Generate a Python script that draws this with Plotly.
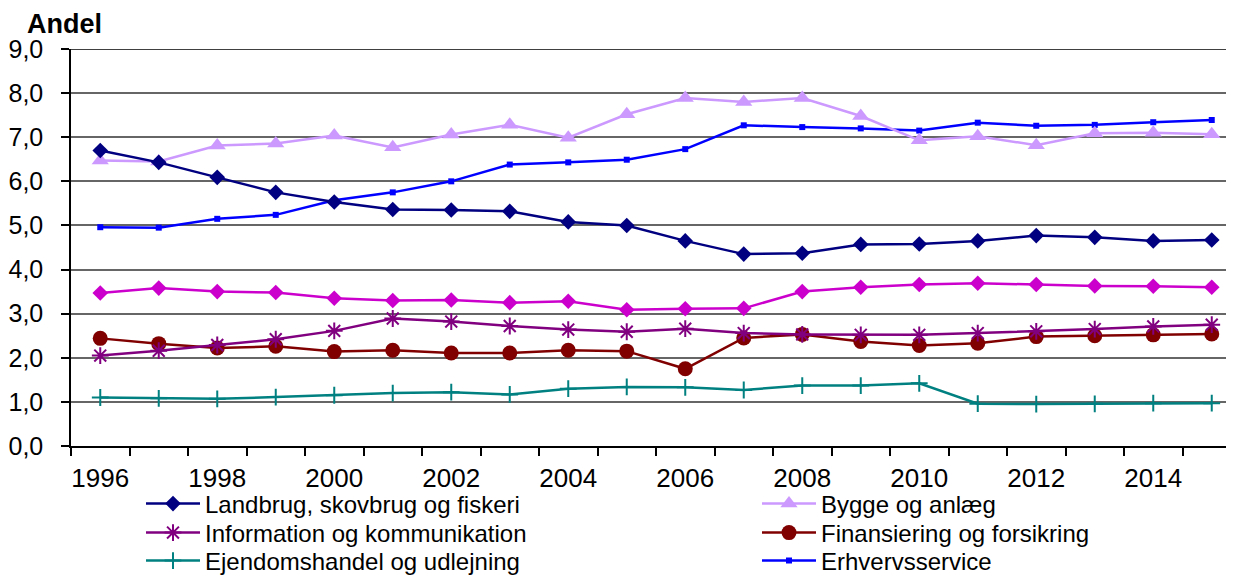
import plotly.graph_objects as go

years = list(range(1996, 2016))
landbrug = [6.70, 6.43, 6.09, 5.75, 5.53, 5.36, 5.35, 5.32, 5.08, 5.00, 4.65, 4.35, 4.37, 4.57, 4.58, 4.65, 4.77, 4.73, 4.65, 4.67]
bygge = [6.47, 6.45, 6.81, 6.86, 7.04, 6.77, 7.06, 7.28, 6.99, 7.52, 7.89, 7.80, 7.89, 7.48, 6.93, 7.02, 6.82, 7.09, 7.10, 7.07]
information = [2.05, 2.16, 2.29, 2.42, 2.61, 2.89, 2.82, 2.72, 2.64, 2.59, 2.66, 2.56, 2.53, 2.52, 2.52, 2.56, 2.60, 2.65, 2.71, 2.75]
finansiering = [2.44, 2.32, 2.22, 2.26, 2.14, 2.17, 2.11, 2.11, 2.17, 2.15, 1.75, 2.45, 2.53, 2.37, 2.28, 2.33, 2.48, 2.50, 2.52, 2.54]
ejendom = [1.10, 1.08, 1.07, 1.11, 1.15, 1.20, 1.22, 1.17, 1.30, 1.34, 1.33, 1.27, 1.37, 1.37, 1.42, 0.96, 0.95, 0.955, 0.97, 0.97]
erhverv = [4.96, 4.95, 5.15, 5.24, 5.57, 5.75, 6.00, 6.38, 6.43, 6.49, 6.73, 7.27, 7.23, 7.20, 7.15, 7.33, 7.26, 7.28, 7.34, 7.39]
magenta = [3.47, 3.58, 3.50, 3.48, 3.35, 3.30, 3.31, 3.25, 3.28, 3.09, 3.11, 3.12, 3.50, 3.60, 3.66, 3.69, 3.66, 3.63, 3.62, 3.60]

label_years = [1996, 1998, 2000, 2002, 2004, 2006, 2008, 2010, 2012, 2014]
y_ticks = [0, 1, 2, 3, 4, 5, 6, 7, 8, 9]

FONT = "Arial, Liberation Sans, sans-serif"
OFF = 8                      # page body margin of the html page
W, H = 1234 - OFF, 577 - OFF  # figure fills the window exactly
ML, MT = 71 - OFF, 49 - OFF
MB = H - (446 - OFF)

fig = go.Figure()

def add(name, y, color, symbol, size, legend, showlegend=True, mline=None):
    marker = dict(symbol=symbol, size=size, color=color)
    if mline:
        marker["line"] = dict(color=color, width=mline)
    fig.add_trace(go.Scatter(
        x=years, y=y, name=name, mode="lines+markers",
        line=dict(color=color, width=2.5), marker=marker,
        legend=legend, showlegend=showlegend,
    ))

add("Erhvervsservice", erhverv, "#0000FF", "square", 6, "legend6")
add("Bygge og anlæg", bygge, "#CC99FF", "triangle-up", 15, "legend2")
add("Landbrug, skovbrug og fiskeri", landbrug, "#000080", "diamond", 12, "legend")
add("Ejendomshandel og udlejning", ejendom, "#008080", "cross-thin-open", 12, "legend5", mline=2)
add("Finansiering og forsikring", finansiering, "#800000", "circle", 15, "legend4")
add("Information og kommunikation", information, "#800080", "asterisk-open", 14, "legend3", mline=2)
add("Handel", magenta, "#CC00CC", "diamond", 12, "legend", showlegend=False)

pw = W - ML
ph = H - MT - MB

fig.add_shape(type="line", xref="paper", yref="y", x0=0, x1=1, y0=9, y1=9,
              line=dict(color="black", width=1.5), layer="above")

fig.add_annotation(text="<b>Andel</b>", xref="paper", yref="paper",
                   x=(25 - 71) / pw, y=(446 - 24) / ph, xanchor="left", yanchor="middle",
                   showarrow=False, font=dict(family=FONT, size=27, color="black"))

def leg(px, py):
    # px, py are window coordinates of the legend item
    return dict(font=dict(family=FONT, size=24, color="black"),
                bgcolor="rgba(0,0,0,0)", itemwidth=54, borderwidth=0,
                xref="container", yref="container",
                x=(px - OFF) / W, y=1 - (py - OFF) / H, xanchor="left", yanchor="middle",
                itemclick=False, itemdoubleclick=False)

C1, C2 = 141, 757
R1, R2, R3 = 504, 533, 561

# right edge of the plot area sits at the window edge (chart cropped there)
x_right = 1995.5 + (1234 - 71) / 58.5

fig.update_layout(
    width=W, height=H,
    margin=dict(l=ML, r=0, t=MT, b=MB, autoexpand=False),
    paper_bgcolor="white", plot_bgcolor="white",
    separators=",.",
    font=dict(family=FONT, size=25, color="black"),
    xaxis=dict(range=[1995.5, x_right], tickvals=label_years, ticktext=[str(v) for v in label_years],
               ticks="", showgrid=False, zeroline=False, showline=True, linecolor="black", linewidth=1.5,
               ticklabelstandoff=8, automargin=False, tickfont=dict(size=26),
               minor=dict(ticks="outside", tick0=1995.5, dtick=1, ticklen=8, tickcolor="black", tickwidth=1.5, showgrid=False)),
    yaxis=dict(range=[0, 9], tickvals=y_ticks, tickformat=".1f", ticks="outside", ticklen=8,
               tickcolor="black", tickwidth=1.5, showline=True, linecolor="black", linewidth=1.5,
               showgrid=True, gridcolor="#666666", gridwidth=1.8, zeroline=False, ticklabelstandoff=13,
               automargin=False, tickfont=dict(size=25)),
    legend=leg(C1, R1),
    legend3=leg(C1, R2),
    legend5=leg(C1, R3),
    legend2=leg(C2, R1),
    legend4=leg(C2, R2),
    legend6=leg(C2, R3),
    showlegend=True,
)

fig.write_html("out.html")
